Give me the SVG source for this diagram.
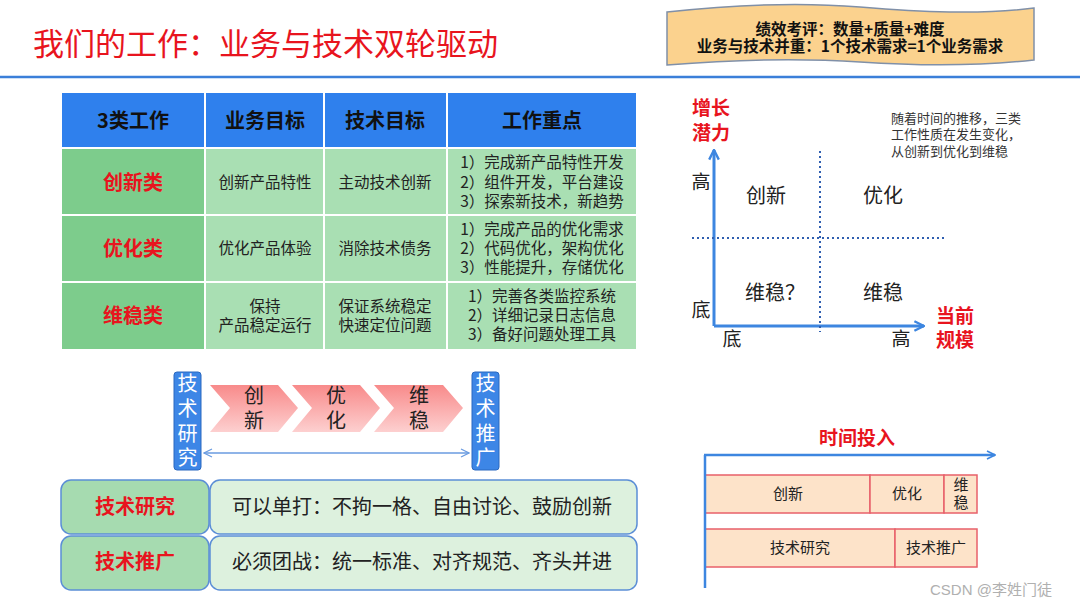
<svg xmlns="http://www.w3.org/2000/svg" width="1080" height="607" viewBox="0 0 1080 607">
<style>
text{font-family:"Noto Sans CJK SC","Noto Sans",sans-serif;fill:#222}
.hd{font-size:20px;font-weight:700;text-anchor:middle;fill:#111}
.rl{font-size:20px;font-weight:700;text-anchor:middle;fill:#e8141e}
.cell{font-size:15.5px;text-anchor:middle;fill:#222}
.lab{fill:#a9dfb3}
.lab1{fill:#7dcc8c}
.q{font-size:20px;fill:#222;text-anchor:middle}
.ax{font-size:19px;fill:#222;text-anchor:middle}
.red{font-size:19px;font-weight:700;fill:#e8141e;text-anchor:middle}
.chev{fill:url(#pink)}
.chtxt{font-size:20px;text-anchor:middle;fill:#222}
.vbox{fill:#3d86e6;stroke:#2a68c0;stroke-width:1}
.vtxt{font-size:20px;text-anchor:middle;fill:#fff}
.tl{fill:#fde3c9;stroke:#e8606a;stroke-width:1.5}
.tlt{font-size:15px;text-anchor:middle;fill:#222}
.mode{font-size:20px;fill:#222}
</style>
<defs>
<linearGradient id="pink" x1="0" y1="0" x2="0" y2="1">
<stop offset="0" stop-color="#f88a8a"/>
<stop offset="1" stop-color="#fdd0d0"/>
</linearGradient>
<marker id="ah" viewBox="0 0 10 10" refX="9" refY="5" markerWidth="10" markerHeight="10" markerUnits="userSpaceOnUse" orient="auto-start-reverse">
<path d="M1,1 L9,5 L1,9" fill="none" stroke="#3d86e0" stroke-width="1.6"/>
</marker>
<marker id="ah2" viewBox="0 0 10 10" refX="9" refY="5" markerWidth="12" markerHeight="12" markerUnits="userSpaceOnUse" orient="auto-start-reverse">
<path d="M1,1 L9,5 L1,9" fill="none" stroke="#3d86e0" stroke-width="2"/>
</marker>
<marker id="ah3" viewBox="0 0 10 10" refX="9" refY="5" markerWidth="10" markerHeight="10" markerUnits="userSpaceOnUse" orient="auto-start-reverse">
<path d="M1,1 L9,5 L1,9" fill="none" stroke="#6a9be0" stroke-width="1.2"/>
</marker>
</defs>
<rect width="1080" height="607" fill="#fff"/>

<g id="title">
<text x="33" y="55" style="font-size:31px;fill:#e8141e">我们的工作：业务与技术双轮驱动</text>
<line x1="0" y1="77" x2="1080" y2="77" stroke="#3b7fd9" stroke-width="2.5"/>
</g>

<g id="banner">
<path d="M667,12 C740,4 800,2 860,7 C920,12 980,15 1034,8 L1034,60 C980,66 920,66 860,62 C800,58 740,59 667,65 Z" fill="#fbd28e" stroke="#8090a8" stroke-width="1.5"/>
<text style="font-size:15.5px;font-weight:700;text-anchor:middle;fill:#111"><tspan x="850" y="35">绩效考评：数量+质量+难度</tspan><tspan x="850" y="52">业务与技术并重：1个技术需求=1个业务需求</tspan></text>
</g>

<g id="table">
<rect x="62" y="93" width="574" height="256" fill="#fff"/>
<rect x="62" y="93" width="142" height="54" fill="#2f80ed"/>
<rect x="206" y="93" width="117" height="54" fill="#2f80ed"/>
<rect x="325" y="93" width="121" height="54" fill="#2f80ed"/>
<rect x="448" y="93" width="188" height="54" fill="#2f80ed"/>
<text class="hd" x="133" y="128">3类工作</text>
<text class="hd" x="265" y="128">业务目标</text>
<text class="hd" x="385" y="128">技术目标</text>
<text class="hd" x="542" y="128">工作重点</text>

<g id="row-innovation">
<rect class="lab1" x="62" y="149" width="142" height="65"/>
<rect class="lab" x="206" y="149" width="117" height="65"/>
<rect class="lab" x="325" y="149" width="121" height="65"/>
<rect class="lab" x="448" y="149" width="188" height="65"/>
<text class="rl" x="133" y="190">创新类</text>
<text class="cell" x="265" y="188">创新产品特性</text>
<text class="cell" x="385" y="188">主动技术创新</text>
<text class="cell"><tspan x="542" y="168">1）完成新产品特性开发</tspan><tspan x="542" y="188">2）组件开发，平台建设</tspan><tspan x="542" y="207">3）探索新技术，新趋势</tspan></text>
</g>
<g id="row-optimize">
<rect class="lab1" x="62" y="216" width="142" height="65"/>
<rect class="lab" x="206" y="216" width="117" height="65"/>
<rect class="lab" x="325" y="216" width="121" height="65"/>
<rect class="lab" x="448" y="216" width="188" height="65"/>
<text class="rl" x="133" y="256">优化类</text>
<text class="cell" x="265" y="254">优化产品体验</text>
<text class="cell" x="385" y="254">消除技术债务</text>
<text class="cell"><tspan x="542" y="235">1）完成产品的优化需求</tspan><tspan x="542" y="254">2）代码优化，架构优化</tspan><tspan x="542" y="273">3）性能提升，存储优化</tspan></text>
</g>
<g id="row-stable">
<rect class="lab1" x="62" y="283" width="142" height="66"/>
<rect class="lab" x="206" y="283" width="117" height="66"/>
<rect class="lab" x="325" y="283" width="121" height="66"/>
<rect class="lab" x="448" y="283" width="188" height="66"/>
<text class="rl" x="133" y="323">维稳类</text>
<text class="cell"><tspan x="265" y="312">保持</tspan><tspan x="265" y="331">产品稳定运行</tspan></text>
<text class="cell"><tspan x="385" y="312">保证系统稳定</tspan><tspan x="385" y="331">快速定位问题</tspan></text>
<text class="cell"><tspan x="542" y="302">1）完善各类监控系统</tspan><tspan x="542" y="321">2）详细记录日志信息</tspan><tspan x="542" y="340">3）备好问题处理工具</tspan></text>
</g>
</g>

<g id="quadrant">
<text class="red"><tspan x="711" y="115">增长</tspan><tspan x="711" y="140">潜力</tspan></text>
<text class="red"><tspan x="955" y="323">当前</tspan><tspan x="955" y="347">规模</tspan></text>
<text class="ax" x="701" y="189">高</text>
<text class="ax" x="701" y="317">底</text>
<text class="ax" x="732" y="346">底</text>
<text class="ax" x="901" y="346">高</text>
<text class="q" x="766" y="203">创新</text>
<text class="q" x="883" y="203">优化</text>
<text class="q" x="775" y="300">维稳？</text>
<text class="q" x="883" y="300">维稳</text>
<text style="font-size:13px;fill:#333"><tspan x="891" y="123">随着时间的推移，三类</tspan><tspan x="891" y="139">工作性质在发生变化，</tspan><tspan x="891" y="156">从创新到优化到维稳</tspan></text>
</g>

<g id="chevrons">
<g id="chev-innovation">
<polygon class="chev" points="210,385 278,385 298,408 278,432 210,432 230,408"/>
<text class="chtxt"><tspan x="254" y="403">创</tspan><tspan x="254" y="428">新</tspan></text>
</g>
<g id="chev-optimize">
<polygon class="chev" points="292,385 360,385 380,408 360,432 292,432 312,408"/>
<text class="chtxt"><tspan x="336" y="403">优</tspan><tspan x="336" y="428">化</tspan></text>
</g>
<g id="chev-stable">
<polygon class="chev" points="374,385 443,385 463,408 443,432 374,432 394,408"/>
<text class="chtxt"><tspan x="419" y="403">维</tspan><tspan x="419" y="428">稳</tspan></text>
</g>
<g id="vbox-research">
<rect class="vbox" x="174" y="372" width="27" height="98" rx="3"/>
<text class="vtxt"><tspan x="187.5" y="391">技</tspan><tspan x="187.5" y="416">术</tspan><tspan x="187.5" y="441">研</tspan><tspan x="187.5" y="465">究</tspan></text>
</g>
<g id="vbox-promote">
<rect class="vbox" x="472" y="372" width="27" height="98" rx="3"/>
<text class="vtxt"><tspan x="485.5" y="391">技</tspan><tspan x="485.5" y="416">术</tspan><tspan x="485.5" y="441">推</tspan><tspan x="485.5" y="465">广</tspan></text>
</g>
</g>

<g id="modes">
<g id="mode-research">
<rect x="61" y="480" width="148" height="54" rx="10" fill="#a6dbb0" stroke="#5b8ed6" stroke-width="1.5"/>
<rect x="210" y="480" width="427" height="54" rx="10" fill="#ddf1de" stroke="#5b8ed6" stroke-width="1.5"/>
<text class="rl" x="135" y="514">技术研究</text>
<text class="mode" x="232" y="514">可以单打：不拘一格、自由讨论、鼓励创新</text>
</g>
<g id="mode-promote">
<rect x="61" y="536" width="148" height="54" rx="10" fill="#a6dbb0" stroke="#5b8ed6" stroke-width="1.5"/>
<rect x="210" y="536" width="427" height="54" rx="10" fill="#ddf1de" stroke="#5b8ed6" stroke-width="1.5"/>
<text class="rl" x="135" y="569">技术推广</text>
<text class="mode" x="232" y="569">必须团战：统一标准、对齐规范、齐头并进</text>
</g>
</g>

<g id="timeline">
<text class="red" x="857" y="445">时间投入</text>
<g id="tl-row1">
<rect class="tl" x="705" y="475" width="165" height="38"/>
<rect class="tl" x="870" y="475" width="74" height="38"/>
<rect class="tl" x="944" y="475" width="33" height="38"/>
<text class="tlt" x="788" y="499">创新</text>
<text class="tlt" x="907" y="499">优化</text>
<text class="tlt"><tspan x="961" y="490">维</tspan><tspan x="961" y="508">稳</tspan></text>
</g>
<g id="tl-row2">
<rect class="tl" x="705" y="529" width="190" height="38"/>
<rect class="tl" x="895" y="529" width="82" height="38"/>
<text class="tlt" x="800" y="553">技术研究</text>
<text class="tlt" x="936" y="553">技术推广</text>
</g>
</g>

<g id="connectors" fill="none">
<line x1="714" y1="326" x2="714" y2="150" stroke="#3d86e0" stroke-width="3" marker-end="url(#ah2)"/>
<line x1="714" y1="326" x2="924" y2="326" stroke="#3d86e0" stroke-width="3" marker-end="url(#ah2)"/>
<line x1="820" y1="151" x2="820" y2="332" stroke="#2f5fb0" stroke-width="2" stroke-dasharray="2 3"/>
<line x1="692" y1="238" x2="947" y2="238" stroke="#2f5fb0" stroke-width="2" stroke-dasharray="2 3"/>
<line x1="204" y1="453" x2="469" y2="453" stroke="#6a9be0" stroke-width="1.3" marker-start="url(#ah3)" marker-end="url(#ah3)"/>
<line x1="705" y1="455" x2="705" y2="588" stroke="#3d86e0" stroke-width="2.5"/>
<line x1="704" y1="455" x2="995" y2="455" stroke="#3d86e0" stroke-width="2.5" marker-end="url(#ah)"/>
</g>

<text x="930" y="595" style="font-size:15px;fill:#b0b0b0;font-family:'Liberation Sans','Noto Sans CJK SC',sans-serif">CSDN @李姓门徒</text>
</svg>
